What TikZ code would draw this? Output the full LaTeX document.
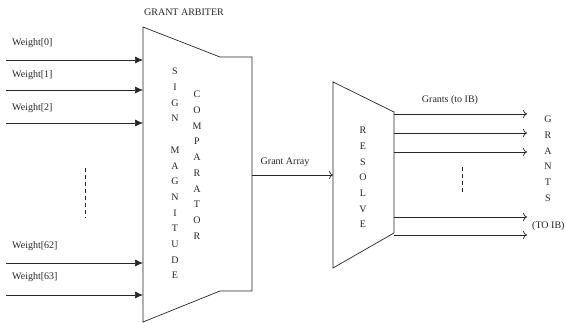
\documentclass[tikz,border=0pt]{standalone}
\usepackage{fontspec}
\setmainfont{Liberation Serif}
\usetikzlibrary{arrows.meta}
\begin{document}
\begin{tikzpicture}[x=1pt,y=-1pt,
  line/.style={line width=0.7pt,draw=black!85},
  inarrow/.style={line,-{Latex[length=8pt,width=7pt]}},
  outarrow/.style={line,-{To[length=4pt,width=8pt]}},
  lbl/.style={font=\fontsize{10}{12}\selectfont,inner sep=0pt,text=black!85},
  vtext/.style={font=\fontsize{10}{15.7}\selectfont,align=center,inner sep=0pt,anchor=north,text=black!85},
  dashline/.style={line,dash pattern=on 4pt off 3pt}]
\useasboundingbox (0,0) rectangle (566,323);
% Arbiter block
\coordinate (a1) at (143,27);
\coordinate (a2) at (220,57);
\coordinate (a3) at (252,57);
\coordinate (a4) at (252,291);
\coordinate (a5) at (220,291);
\coordinate (a6) at (143,322);
\draw[line] (a1) -- (a2) -- (a3) -- (a4) -- (a5) -- (a6) -- cycle;
% Resolve block
\coordinate (r1) at (333,82);
\coordinate (r2) at (394,112);
\coordinate (r3) at (394,233);
\coordinate (r4) at (333,268);
\draw[line] (r1) -- (r2) -- (r3) -- (r4) -- cycle;
% title
\node[lbl] (title) at (184,12) {GRANT ARBITER};
% inputs
\foreach \n/\lab/\ly/\ay in {0/Weight[0]/43/60, 1/Weight[1]/75/90, 2/Weight[2]/108/123, 62/Weight[62]/246/263, 63/Weight[63]/277/295}{
  \node[lbl,anchor=west] (wl\n) at (12,\ly) {\lab};
  \coordinate (ws\n) at (6,\ay);
  \coordinate (we\n) at (143,\ay);
  \draw[inarrow] (ws\n) -- (we\n);
}
\coordinate (ld1) at (85,168);
\coordinate (ld2) at (85,218);
\draw[dashline] (ld1) -- (ld2);
% vertical texts
\node[vtext] (sign) at (175,68) {S\\I\\G\\N\\~\\M\\A\\G\\N\\I\\T\\U\\D\\E};
\node[vtext] (comp) at (197,91) {C\\O\\M\\P\\A\\R\\A\\T\\O\\R};
\node[vtext] (res) at (363,127) {R\\E\\S\\O\\L\\V\\E};
\node[vtext] (grants) at (548,116) {G\\R\\A\\N\\T\\S};
% grant array
\coordinate (ga1) at (252,175);
\coordinate (ga2) at (333,175);
\draw[outarrow] (ga1) -- (ga2);
\node[lbl] (galab) at (285,162) {Grant Array};
% outputs
\foreach \i/\y in {1/114,2/133,3/152,4/217,5/235}{
  \coordinate (os\i) at (394,\y);
  \coordinate (oe\i) at (527,\y);
  \draw[outarrow] (os\i) -- (oe\i);
}
\node[lbl] (glab) at (450,100) {Grants (to IB)};
\node[lbl,anchor=west] (toib) at (532,226) {(TO IB)};
\coordinate (rd1) at (462,167);
\coordinate (rd2) at (462,192);
\draw[dashline] (rd1) -- (rd2);
\end{tikzpicture}
\end{document}
